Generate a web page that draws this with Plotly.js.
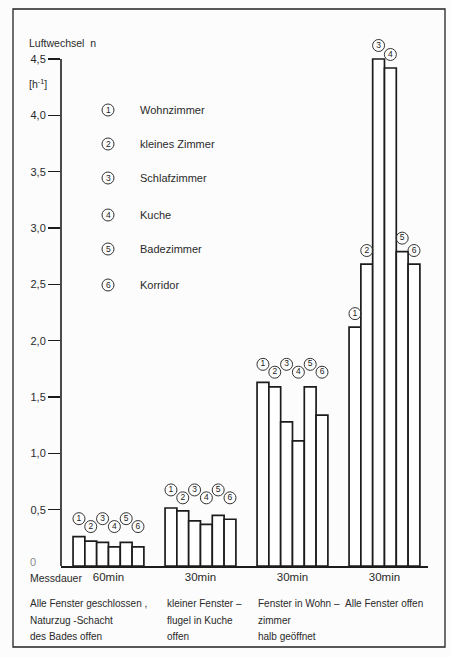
<!DOCTYPE html>
<html>
<head>
<meta charset="utf-8">
<script src="https://cdn.plot.ly/plotly-3.0.1.min.js"></script>
<style>
  html, body { margin: 0; padding: 0; background: #fcfcfc; }
  #chart { width: 451px; height: 657px; }
</style>
</head>
<body>
<div id="chart"></div>
<script>
// ---- data ----
const groups = [0, 1, 2, 3];
const durations = ["60min", "30min", "30min", "30min"];
const roomNames = ["Wohnzimmer", "kleines Zimmer", "Schlafzimmer", "Kuche", "Badezimmer", "Korridor"];
const roomNums = ["1", "2", "3", "4", "5", "6"];
const wohnzimmer    = [0.26, 0.515, 1.63, 2.12];
const kleinesZimmer = [0.22, 0.49, 1.59, 2.68];
const schlafzimmer  = [0.21, 0.40, 1.28, 4.50];
const kueche        = [0.17, 0.37, 1.11, 4.42];
const badezimmer    = [0.21, 0.45, 1.59, 2.79];
const korridor      = [0.17, 0.415, 1.34, 2.68];
const yTickVals = [0.5, 1.0, 1.5, 2.0, 2.5, 3.0, 3.5, 4.0, 4.5];
const yAxisTop = 4.5;
const conditionLines = [
  ["Alle Fenster geschlossen ,", "Naturzug -Schacht", "des Bades offen"],
  ["kleiner Fenster –", "flugel in Kuche", "offen"],
  ["Fenster in Wohn –", "zimmer", "halb geöffnet"],
  ["Alle Fenster offen"]
];
const series = [wohnzimmer, kleinesZimmer, schlafzimmer, kueche, badezimmer, korridor];

// ---- layout helpers ----
const W = 451, H = 657;
const M = {l: 61, r: 23, t: 31, b: 91};
const pw = W - M.l - M.r, ph = H - M.t - M.b;
const pxPerUnit = (566 - 59) / yAxisTop;       // pixel scale of the value axis
const yRangeTop = ph / pxPerUnit;               // headroom above 4.5 for labels
const px = x => (x - M.l) / pw;
const py = y => (H - M.b - y) / ph;

const FONT = '"Liberation Sans", Arial, "DejaVu Sans", sans-serif';
const INK = '#1c1c1c';
const TXT = '#2a2a2a';

const bargap = 0.23;
const nS = series.length;
const bw = (1 - bargap) / nS;
const offs = series.map((_, i) => -(1 - bargap) / 2 + (i + 0.5) * bw);

const traces = [];
series.forEach((vals, i) => {
  traces.push({
    type: 'bar', x: groups, y: vals, name: roomNames[i],
    marker: {color: '#ffffff', line: {color: INK, width: 1.7}},
    showlegend: false, hoverinfo: 'skip'
  });
});
// circled labels above the bars
series.forEach((vals, i) => {
  const ys = groups.map(g => {
    if (g < 3) {
      const mx = Math.max(...series.map(s => s[g]));
      return mx + (i % 2 === 0 ? 0.16 : 0.09);
    }
    return vals[g] + 0.12;
  });
  traces.push({
    type: 'scatter', mode: 'markers+text',
    x: groups.map(g => g + offs[i]), y: ys,
    text: groups.map(() => roomNums[i]),
    textposition: 'middle center',
    textfont: {family: FONT, size: 8.5, color: INK},
    marker: {symbol: 'circle-open', size: 12, color: '#333', line: {width: 1}},
    cliponaxis: false, showlegend: false, hoverinfo: 'skip'
  });
});

const annotations = [];
const shapes = [];
// frame
shapes.push({type: 'rect', xref: 'paper', yref: 'paper',
  x0: px(13), x1: px(445), y0: py(647), y1: py(9),
  line: {color: '#222', width: 1.3}, fillcolor: 'rgba(0,0,0,0)'});
// value axis line (0 .. 4.5)
shapes.push({type: 'line', xref: 'paper', yref: 'y', x0: 0, x1: 0, y0: 0, y1: yAxisTop,
  line: {color: INK, width: 1.6}});

// axis title
annotations.push({xref: 'paper', yref: 'paper', x: px(27), y: py(43), xanchor: 'left', yanchor: 'middle',
  text: 'Luftwechsel  n', showarrow: false, font: {family: FONT, size: 10.5, color: TXT}});
annotations.push({xref: 'paper', yref: 'paper', x: px(27), y: py(84), xanchor: 'left', yanchor: 'middle',
  text: '[h<sup>-1</sup>]', showarrow: false, font: {family: FONT, size: 10.5, color: TXT}});
annotations.push({xref: 'paper', yref: 'y', x: px(33), y: 0, yshift: 4, xanchor: 'center', yanchor: 'middle',
  text: '0', showarrow: false, font: {family: FONT, size: 11, color: '#8a8a8a'}});
annotations.push({xref: 'paper', yref: 'paper', x: px(28), y: py(578), xanchor: 'left', yanchor: 'middle',
  text: 'Messdauer', showarrow: false, font: {family: FONT, size: 10.5, color: TXT}});

// legend
const legRowY = [110, 144, 178, 215, 249, 285];
roomNames.forEach((nm, i) => {
  shapes.push({type: 'circle', xref: 'paper', yref: 'paper', xsizemode: 'pixel', ysizemode: 'pixel',
    xanchor: px(108), yanchor: py(legRowY[i]), x0: -6, x1: 6, y0: -6, y1: 6,
    line: {color: '#333', width: 1}});
  annotations.push({xref: 'paper', yref: 'paper', x: px(108), y: py(legRowY[i]), xanchor: 'center', yanchor: 'middle',
    text: roomNums[i], showarrow: false, font: {family: FONT, size: 8.5, color: INK}});
  annotations.push({xref: 'paper', yref: 'paper', x: px(138), y: py(legRowY[i]), xanchor: 'left', yanchor: 'middle',
    text: nm, showarrow: false, font: {family: FONT, size: 11, color: TXT}});
});

// condition descriptions
const condX = [28, 165, 256, 343];
const condY = [603, 620, 636];
conditionLines.forEach((lines, g) => {
  lines.forEach((ln, k) => {
    annotations.push({xref: 'paper', yref: 'paper', x: px(condX[g]), y: py(condY[k]), xanchor: 'left', yanchor: 'middle',
      text: ln, showarrow: false, font: {family: FONT, size: 10, color: TXT}});
  });
});

const layout = {
  width: W, height: H, margin: M,
  paper_bgcolor: '#fcfcfc', plot_bgcolor: 'rgba(0,0,0,0)',
  barmode: 'group', bargap: bargap, bargroupgap: 0,
  separators: ',.',
  showlegend: false,
  font: {family: FONT, size: 11, color: TXT},
  xaxis: {
    range: [-0.516, 3.473], tickvals: groups, ticktext: durations,
    showgrid: false, zeroline: false, showline: true, linecolor: INK, linewidth: 1.6,
    ticks: '', tickfont: {family: FONT, size: 11.5, color: TXT}, fixedrange: true
  },
  yaxis: {
    range: [0, yRangeTop], tickvals: yTickVals, tickformat: '.1f',
    showgrid: false, zeroline: false, showline: false,
    ticks: 'outside', ticklen: 12, tickwidth: 1.3, tickcolor: INK,
    tickfont: {family: FONT, size: 11, color: TXT}, fixedrange: true
  },
  shapes: shapes,
  annotations: annotations
};

Plotly.newPlot('chart', traces, layout, {displayModeBar: false, staticPlot: true});
</script>
</body>
</html>
